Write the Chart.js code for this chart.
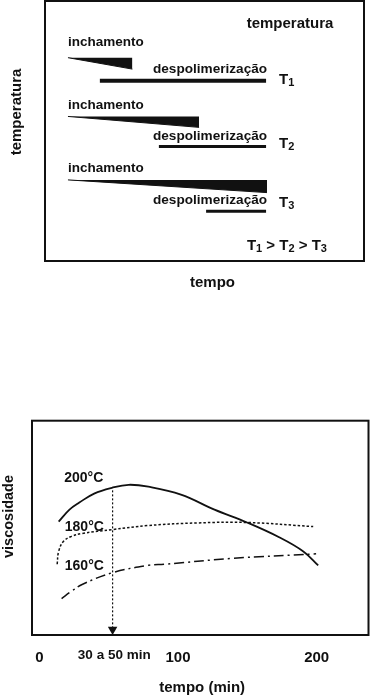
<!DOCTYPE html>
<html>
<head>
<meta charset="utf-8">
<script src="https://cdn.jsdelivr.net/npm/chart.js@4.4.1/dist/chart.umd.min.js"></script>
<style>
html, body { margin: 0; padding: 0; background: #fff; }
#top { position: absolute; left: 0; top: 0; width: 374px; height: 300px; }
#bottom { position: absolute; left: 0; top: 300px; width: 374px; height: 397px; }
</style>
</head>
<body>
<div id="top"><canvas id="schemeChart"></canvas></div>
<div id="bottom"><canvas id="viscChart"></canvas></div>
<script>
// top panel: swelling wedges (inchamento) and depolymerization bars for T1..T3
var wedgeStart = [7.2, 7.2, 7.2];
var wedgeEnd = [27.4, 48.3, 69.6];
var wedgeTop = [78.2, 55.6, 31.2];
var wedgeBottom = [73.8, 51.4, 26.3];
var barStart = [17.2, 35.7, 50.5];
var barEnd = [69.3, 69.3, 69.3];
var barLevel = [69.3, 44.0, 19.1];
var tempIndex = ['1', '2', '3'];

// bottom panel: viscosity vs time (min)
var time200 = [13.9, 21.7, 28.8, 39.5, 52.3, 64.4, 78.6, 102.1, 126.3, 149.8, 173.3, 190.4, 201.1];
var visc200 = [52.9, 58.5, 61.8, 66.0, 68.7, 70.1, 69.2, 65.5, 58.5, 52.5, 45.5, 39.0, 32.5];
var time180 = [12.8, 13.9, 17.4, 23.1, 31.0, 52.8, 78.6, 114.2, 149.8, 197.5];
var visc180 = [33.0, 39.0, 43.7, 46.0, 47.4, 49.2, 51.1, 52.3, 52.5, 50.6];
var time160 = [16.0, 23.1, 31.2, 52.8, 78.6, 90.5, 137.9, 199.6];
var visc160 = [17.0, 20.4, 23.7, 29.1, 32.5, 33.0, 35.7, 37.9];
var timeTicks = [0, 100, 200];
var markTime = 52.8;   // "30 a 50 min" arrow

var INK = '#111';
var FAMILY = '"Liberation Sans", Arial, Helvetica, sans-serif';

function pts(xs, ys) {
  return xs.map(function (x, i) { return { x: x, y: ys[i] }; });
}

function txt(ctx, s, x, y, size, align) {
  ctx.font = 'bold ' + size + 'px ' + FAMILY;
  ctx.textAlign = align || 'left';
  ctx.textBaseline = 'middle';
  ctx.fillStyle = INK;
  ctx.fillText(s, x, y);
  return ctx.measureText(s).width;
}

// "T" with a subscript digit, drawn from the left, returns width used
function tSub(ctx, n, x, y) {
  var w = txt(ctx, 'T', x, y, 15);
  w += txt(ctx, n, x + w, y + 3, 11);
  return w;
}

var schemePlugin = {
  id: 'schemeText',
  afterDatasetsDraw: function (chart) {
    var ctx = chart.ctx, a = chart.chartArea;
    var xs = chart.scales.x, ys = chart.scales.y;
    ctx.save();
    ctx.strokeStyle = INK;
    ctx.lineWidth = 2;
    ctx.strokeRect(a.left, a.top, a.right - a.left, a.bottom - a.top);

    txt(ctx, 'temperatura', xs.getPixelForValue(76.8), ys.getPixelForValue(91.2), 15, 'center');

    var inchY = [84.0, 60.0, 35.7];
    var despY = [73.8, 47.8, 23.2];
    var tY = [69.6, 45.0, 22.3];
    for (var i = 0; i < 3; i++) {
      txt(ctx, 'inchamento', xs.getPixelForValue(wedgeStart[i]), ys.getPixelForValue(inchY[i]), 13.5);
      txt(ctx, 'despolimerização', xs.getPixelForValue(barEnd[i]) + 1, ys.getPixelForValue(despY[i]), 13.6, 'right');
      tSub(ctx, tempIndex[i], xs.getPixelForValue(barEnd[i]) + 13, ys.getPixelForValue(tY[i]));
    }

    // T1 > T2 > T3
    var x = xs.getPixelForValue(63.3), y = ys.getPixelForValue(5.8);
    for (var k = 0; k < 3; k++) {
      x += tSub(ctx, tempIndex[k], x, y);
      if (k < 2) x += txt(ctx, ' > ', x, y, 15);
    }

    txt(ctx, 'tempo', xs.getPixelForValue(52.5), a.bottom + 22, 15, 'center');

    ctx.translate(17, ys.getPixelForValue(57.3));
    ctx.rotate(-Math.PI / 2);
    txt(ctx, 'temperatura', 0, 0, 15, 'center');
    ctx.restore();
  }
};

var schemeSets = [];
for (var i = 0; i < 3; i++) {
  schemeSets.push({
    data: [{ x: wedgeStart[i], y: wedgeTop[i] }, { x: wedgeEnd[i], y: wedgeBottom[i] }],
    fill: { value: wedgeTop[i] },
    backgroundColor: INK,
    borderColor: INK,
    borderWidth: 1,
    pointRadius: 0
  });
  schemeSets.push({
    data: [{ x: barStart[i], y: barLevel[i] }, { x: barEnd[i], y: barLevel[i] }],
    fill: false,
    borderColor: INK,
    borderWidth: i === 0 ? 4 : 3,
    borderCapStyle: 'butt',
    pointRadius: 0
  });
}

new Chart(document.getElementById('schemeChart'), {
  type: 'line',
  data: { datasets: schemeSets },
  options: {
    responsive: true,
    maintainAspectRatio: false,
    animation: false,
    layout: { padding: { left: 45, top: 1, right: 10, bottom: 39 } },
    plugins: { legend: { display: false }, tooltip: { enabled: false } },
    scales: {
      x: { type: 'linear', min: 0, max: 100, display: false },
      y: { type: 'linear', min: 0, max: 100, display: false }
    }
  },
  plugins: [schemePlugin]
});

var viscPlugin = {
  id: 'viscText',
  afterDatasetsDraw: function (chart) {
    var ctx = chart.ctx, a = chart.chartArea;
    var xs = chart.scales.x, ys = chart.scales.y;
    ctx.save();
    ctx.strokeStyle = INK;
    ctx.lineWidth = 2;
    ctx.strokeRect(a.left, a.top, a.right - a.left, a.bottom - a.top);

    txt(ctx, '200°C', xs.getPixelForValue(32), ys.getPixelForValue(73.4), 14, 'center');
    txt(ctx, '180°C', xs.getPixelForValue(32.4), ys.getPixelForValue(50.5), 14, 'center');
    txt(ctx, '160°C', xs.getPixelForValue(32.4), ys.getPixelForValue(31.9), 14, 'center');
    txt(ctx, '30 a 50 min', xs.getPixelForValue(54), a.bottom + 20, 13.5, 'center');
    txt(ctx, 'tempo (min)', xs.getPixelForValue(117.4), a.bottom + 53, 15, 'center');

    ctx.translate(9, ys.getPixelForValue(55.3));
    ctx.rotate(-Math.PI / 2);
    txt(ctx, 'viscosidade', 0, 0, 14.5, 'center');
    ctx.restore();
  }
};

new Chart(document.getElementById('viscChart'), {
  type: 'line',
  data: {
    datasets: [
      { label: '200°C', data: pts(time200, visc200), borderColor: INK, borderWidth: 1.8, tension: 0.4, pointRadius: 0, fill: false },
      { label: '180°C', data: pts(time180, visc180), borderColor: INK, borderWidth: 1.5, borderDash: [2.5, 2], tension: 0.4, pointRadius: 0, fill: false },
      { label: '160°C', data: pts(time160, visc160), borderColor: INK, borderWidth: 1.5, borderDash: [10, 4, 2, 4], tension: 0.4, pointRadius: 0, fill: false },
      { label: 'mark', data: [{ x: markTime, y: 67.5 }, { x: markTime, y: 2 }], borderColor: INK, borderWidth: 1.2, borderDash: [2, 2], pointRadius: 0, fill: false },
      { label: 'arrow', data: [{ x: markTime, y: 2.55 }], showLine: false, pointStyle: 'triangle', rotation: 180, pointRadius: 5.5, pointBackgroundColor: INK, pointBorderWidth: 0, borderColor: INK }
    ]
  },
  options: {
    responsive: true,
    maintainAspectRatio: false,
    animation: false,
    layout: { padding: { left: 32, top: 120.7, right: 1, bottom: 16 } },
    plugins: { legend: { display: false }, tooltip: { enabled: false } },
    scales: {
      x: {
        type: 'linear',
        min: -5.34,
        max: 237.4,
        afterBuildTicks: function (axis) {
          axis.ticks = timeTicks.map(function (v) { return { value: v }; });
        },
        grid: { display: false, drawTicks: false },
        border: { display: false },
        ticks: { autoSkip: false, padding: 14, color: INK, font: { family: FAMILY, size: 15, weight: 'bold' } }
      },
      y: { type: 'linear', min: 0, max: 100, display: false }
    }
  },
  plugins: [viscPlugin]
});
</script>
</body>
</html>
